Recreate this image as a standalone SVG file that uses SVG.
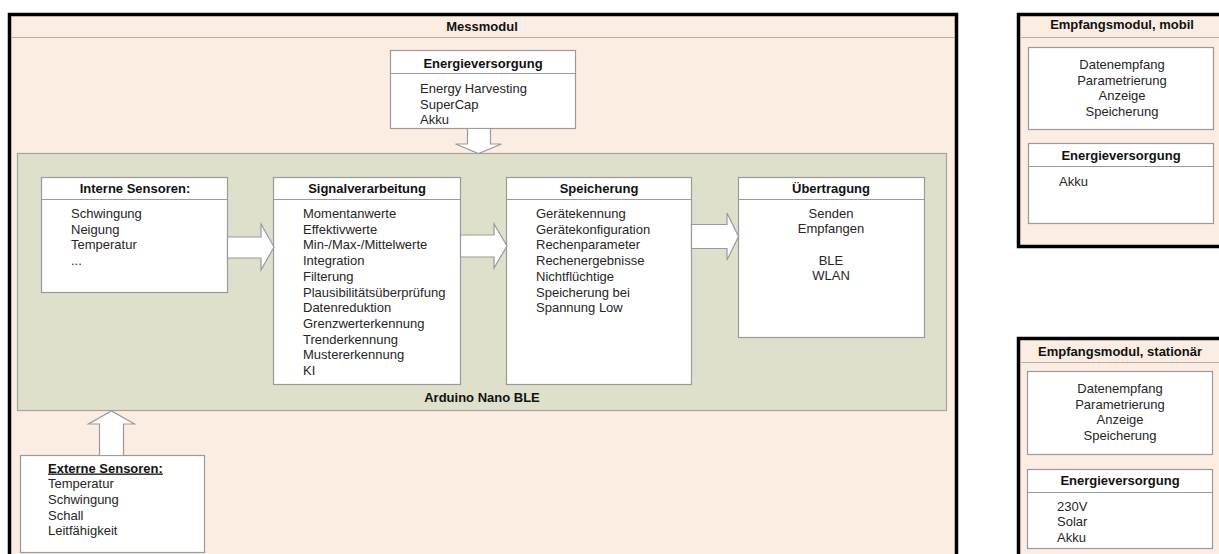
<svg xmlns="http://www.w3.org/2000/svg" width="1219" height="554" viewBox="0 0 1219 554">
<style>
.frame{fill:#fcede3;stroke:#000;stroke-width:3.5}
.hline{stroke:#b8aca4;stroke-width:1.2}
.box{fill:#fff;stroke:#9a9a9a;stroke-width:1.2}
.sep{stroke:#9a9a9a;stroke-width:1.2}
.green{fill:#dee0cc;stroke:#a4a49a;stroke-width:1.2}
.arrow{fill:#fff;stroke:#9a9a9a;stroke-width:1.2;stroke-linejoin:miter}
text{font-family:"Liberation Sans",Arial,sans-serif;font-size:13px;fill:#262626}
.t{font-weight:bold;fill:#111}
.c{text-anchor:middle}
</style>
<rect width="1219" height="554" fill="#fff"/>

<g id="messmodul">
<rect class="frame" x="9.5" y="14.5" width="947" height="560"/>
<line class="hline" x1="11" y1="37.5" x2="955" y2="37.5"/>
<text class="t c" x="482" y="31">Messmodul</text>
</g>

<g id="energie">
<rect class="box" x="390.5" y="50.5" width="185" height="78"/>
<line class="sep" x1="390.5" y1="73.5" x2="575.5" y2="73.5"/>
<text class="t c" x="483" y="68">Energieversorgung</text>
<text x="420" y="93">Energy Harvesting</text>
<text x="420" y="108.7">SuperCap</text>
<text x="420" y="124.4">Akku</text>
</g>

<g id="arduino">
<rect class="green" x="17.5" y="153.5" width="929" height="257"/>
<text class="t c" x="482" y="402">Arduino Nano BLE</text>
</g>

<g id="interne">
<rect class="box" x="41.5" y="177.5" width="186" height="115"/>
<line class="sep" x1="41.5" y1="199.5" x2="227.5" y2="199.5"/>
<text class="t c" x="135" y="192.5">Interne Sensoren:</text>
<text x="71" y="218">Schwingung</text>
<text x="71" y="233.7">Neigung</text>
<text x="71" y="249.4">Temperatur</text>
<text x="71" y="265.1">...</text>
</g>

<g id="signal">
<rect class="box" x="273.5" y="177.5" width="187" height="207"/>
<line class="sep" x1="273.5" y1="199.5" x2="460.5" y2="199.5"/>
<text class="t c" x="367" y="192.5">Signalverarbeitung</text>
<text x="303" y="218">Momentanwerte</text>
<text x="303" y="233.7">Effektivwerte</text>
<text x="303" y="249.4">Min-/Max-/Mittelwerte</text>
<text x="303" y="265.1">Integration</text>
<text x="303" y="280.8">Filterung</text>
<text x="303" y="296.5">Plausibilitätsüberprüfung</text>
<text x="303" y="312.2">Datenreduktion</text>
<text x="303" y="327.9">Grenzwerterkennung</text>
<text x="303" y="343.6">Trenderkennung</text>
<text x="303" y="359.3">Mustererkennung</text>
<text x="303" y="375">KI</text>
</g>

<g id="speicherung">
<rect class="box" x="506.5" y="177.5" width="185" height="207"/>
<line class="sep" x1="506.5" y1="199.5" x2="691.5" y2="199.5"/>
<text class="t c" x="599" y="192.5">Speicherung</text>
<text x="536" y="218">Gerätekennung</text>
<text x="536" y="233.7">Gerätekonfiguration</text>
<text x="536" y="249.4">Rechenparameter</text>
<text x="536" y="265.1">Rechenergebnisse</text>
<text x="536" y="280.8">Nichtflüchtige</text>
<text x="536" y="296.5">Speicherung bei</text>
<text x="536" y="312.2">Spannung Low</text>
</g>

<g id="uebertragung">
<rect class="box" x="738.5" y="177.5" width="186" height="160"/>
<line class="sep" x1="738.5" y1="199.5" x2="924.5" y2="199.5"/>
<text class="t c" x="831" y="192.5">Übertragung</text>
<text class="c" x="831" y="217.5">Senden</text>
<text class="c" x="831" y="233.2">Empfangen</text>
<text class="c" x="831" y="264.6">BLE</text>
<text class="c" x="831" y="280.3">WLAN</text>
</g>

<g id="externe">
<rect class="box" x="20.5" y="455.5" width="184" height="97"/>
<text class="t" x="48" y="472.5" text-decoration="underline">Externe Sensoren:</text>
<text x="48" y="488.2">Temperatur</text>
<text x="48" y="503.9">Schwingung</text>
<text x="48" y="519.6">Schall</text>
<text x="48" y="535.3">Leitfähigkeit</text>
</g>

<g id="mobil">
<rect class="frame" x="1018.5" y="14.5" width="210" height="232"/>
<line class="hline" x1="1020" y1="37.5" x2="1219" y2="37.5"/>
<text class="t c" x="1122" y="29">Empfangsmodul, mobil</text>
<rect class="box" x="1028.5" y="47.5" width="185" height="82"/>
<text class="c" x="1122" y="69">Datenempfang</text>
<text class="c" x="1122" y="84.7">Parametrierung</text>
<text class="c" x="1122" y="100.4">Anzeige</text>
<text class="c" x="1122" y="116.1">Speicherung</text>
<rect class="box" x="1028.5" y="143.5" width="185" height="80"/>
<line class="sep" x1="1028.5" y1="166.5" x2="1213.5" y2="166.5"/>
<text class="t c" x="1121" y="160">Energieversorgung</text>
<text x="1059" y="186">Akku</text>
</g>

<g id="stationaer">
<rect class="frame" x="1018.5" y="338.5" width="210" height="240"/>
<line class="hline" x1="1020" y1="362.5" x2="1219" y2="362.5"/>
<text class="t c" x="1120" y="355.5">Empfangsmodul, stationär</text>
<rect class="box" x="1027.5" y="371.5" width="185" height="83"/>
<text class="c" x="1120" y="393">Datenempfang</text>
<text class="c" x="1120" y="408.7">Parametrierung</text>
<text class="c" x="1120" y="424.4">Anzeige</text>
<text class="c" x="1120" y="440.1">Speicherung</text>
<rect class="box" x="1027.5" y="469.5" width="185" height="79"/>
<line class="sep" x1="1027.5" y1="492.5" x2="1212.5" y2="492.5"/>
<text class="t c" x="1120" y="485">Energieversorgung</text>
<text x="1057" y="510.5">230V</text>
<text x="1057" y="526.2">Solar</text>
<text x="1057" y="541.9">Akku</text>
</g>

<g id="connectors">
<polygon class="arrow" points="467.5,128.5 490.5,128.5 490.5,144 501.5,144 478.5,153.5 455.5,144 467.5,144"/>
<polygon class="arrow" points="227.5,237 261,237 261,224 274,247 261,270 261,258 227.5,258"/>
<polygon class="arrow" points="460.5,235 494,235 494,224 507,246 494,268 494,257 460.5,257"/>
<polygon class="arrow" points="691.5,224.5 727,224.5 727,213 738.5,236.5 727,260 727,248.5 691.5,248.5"/>
<polygon class="arrow" points="99.5,455.5 123.5,455.5 123.5,424 134.5,424 111.5,411 88.5,424 99.5,424"/>
</g>
</svg>
